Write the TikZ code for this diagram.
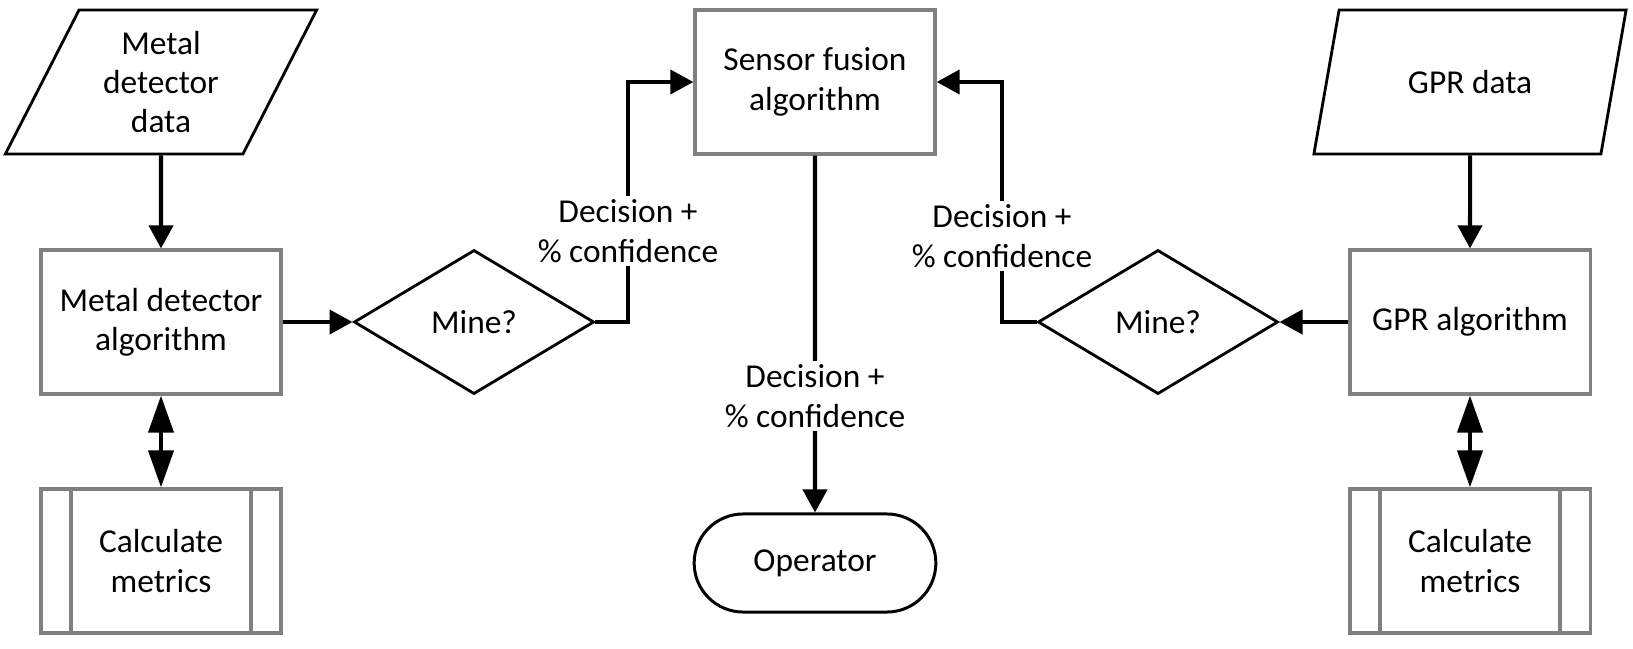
\documentclass[tikz,border=0pt]{standalone}
\usepackage{fontspec}
\setmainfont{Carlito}
\usetikzlibrary{shapes.geometric,shapes.misc,arrows.meta}
\tikzset{
  proc/.style={draw=black!50, line width=0.9pt, minimum width=2.4cm,
    minimum height=1.44cm, align=center, inner sep=0pt},
  subproc/.style={proc, path picture={
    \draw[black!50, line width=0.9pt]
      ([xshift=0.3cm]path picture bounding box.north west) --
      ([xshift=0.3cm]path picture bounding box.south west)
      ([xshift=-0.3cm]path picture bounding box.north east) --
      ([xshift=-0.3cm]path picture bounding box.south east);}},
  data/.style={trapezium, trapezium left angle=63, trapezium right angle=117,
    trapezium stretches=true, draw, line width=0.8pt, minimum width=3.13cm,
    minimum height=1.44cm, align=center, inner sep=0pt},
  decide/.style={diamond, draw, line width=0.8pt, minimum width=2.4cm,
    minimum height=1.44cm, inner sep=0pt},
  term/.style={rounded rectangle, draw, line width=0.85pt,
    minimum width=2.65cm, minimum height=0.98cm},
  lbl/.style={fill=white, align=center, inner sep=1pt},
  flow/.style={-{Triangle[length=0.23cm,width=0.24cm]}, line width=1.15pt},
  both/.style={{Triangle[length=0.37cm,width=0.25cm]}-{Triangle[length=0.37cm,width=0.25cm]}, line width=1.15pt},
}
\begin{document}
\begin{tikzpicture}[x=0.01cm, y=-0.01cm, font=\fontsize{9.5pt}{11.2pt}\selectfont]
  \useasboundingbox (0,0) rectangle (1633,648);
  \node[data] (md) at (161,82) {Metal\\detector\\data};
  \node[proc] (mda) at (161,322) {Metal detector\\algorithm};
  \node[subproc] (cl) at (161,561) {Calculate\\metrics};
  \node[decide] (dl) at (474,322) {Mine?};
  \node[proc] (sf) at (815,82) {Sensor fusion\\algorithm};
  \node[term] (op) at (815,563) {Operator};
  \node[decide] (dr) at (1158,322) {Mine?};
  \node[data] (gpr) at (1470,82) {GPR data};
  \node[proc] (gpra) at (1470,322) {GPR algorithm};
  \node[subproc] (cr) at (1470,561) {Calculate\\metrics};
  \coordinate (jl) at (628,82);
  \coordinate (jr) at (1002,82);
  \begin{scope}[flow]
    \draw (md) -- (mda);
    \draw (mda) -- (dl);
    \draw (dl.east) -| (jl) -- (sf);
    \draw (sf) -- (op);
    \draw (gpr) -- (gpra);
    \draw (gpra) -- (dr);
    \draw (dr.west) -| (jr) -- (sf);
  \end{scope}
  \draw[both] (mda) -- (cl);
  \draw[both] (gpra) -- (cr);
  \node[lbl] (l1) at (628,231) {Decision +\\\% confidence};
  \node[lbl] (l2) at (815,396) {Decision +\\\% confidence};
  \node[lbl] (l3) at (1002,236) {Decision +\\\% confidence};
\end{tikzpicture}
\end{document}
